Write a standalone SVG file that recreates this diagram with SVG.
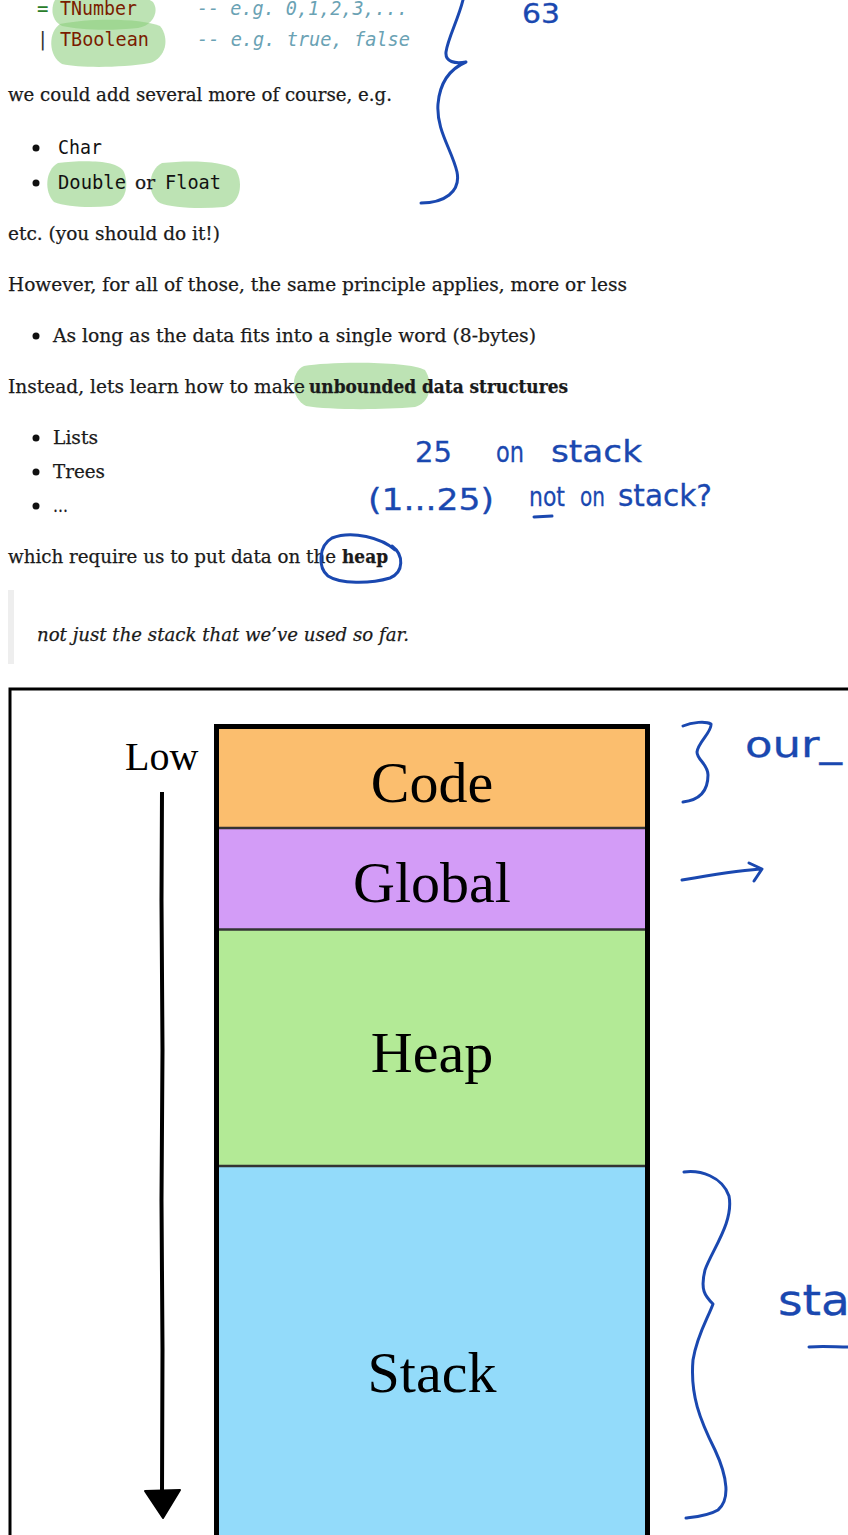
<svg xmlns="http://www.w3.org/2000/svg" width="848" height="1535" viewBox="0 0 848 1535">
  <style>
    .body { font-family: "DejaVu Serif", "Liberation Serif", serif; font-size: 18px; fill: #1a1a1a; stroke: #1a1a1a; stroke-width: 0.25; }
    .bold { font-weight: bold; }
    .ital { font-style: italic; }
    .mono { font-family: "DejaVu Sans Mono", "Liberation Mono", monospace; font-size: 19px; }
    .ctor { fill: #7a1c00; }
    .op { fill: #2a7d2a; }
    .bar { fill: #333; }
    .cmt { fill: #6aa2b4; font-style: italic; }
    .code { fill: #111; }
    .hl { fill: rgb(137,205,121); fill-opacity: 0.56; }
    .ink { fill: none; stroke: #1a48b0; stroke-width: 3; stroke-linecap: round; stroke-linejoin: round; }
    .inktext { font-family: "DejaVu Sans", "Noto Sans", sans-serif; fill: #1a48b0; stroke: #1a48b0; stroke-width: 0.3; }
    .seg { stroke: none; }
    .sep { stroke: #333; stroke-width: 2.5; }
    .label { font-family: "Liberation Serif", "DejaVu Serif", serif; font-size: 58px; fill: #000; text-anchor: middle; }
  </style>

  <!-- marker highlights (drawn under the text) -->
  <g id="highlights">
    <path class="hl" d="M58,-4 C90,-10 140,-8 153,2 C160,12 152,26 138,28 C110,31 80,30 62,26 C50,20 50,4 58,-4 Z"/>
    <path class="hl" d="M60,24 C90,18 140,18 160,26 C170,38 166,58 150,63 C120,68 80,68 62,64 C48,56 48,32 60,24 Z"/>
    <path class="hl" d="M58,163 C85,160 118,160 124,172 C130,188 124,204 110,206 C90,208 66,207 54,202 C44,192 45,170 58,163 Z"/>
    <path class="hl" d="M162,163 C190,160 225,161 236,170 C244,184 240,204 224,207 C200,209 172,208 160,203 C146,194 148,170 162,163 Z"/>
    <path class="hl" d="M304,366 C330,361 410,361 425,370 C434,384 430,403 415,407 C380,410 330,410 306,406 C290,398 290,372 304,366 Z"/>
  </g>

  <!-- data type definition -->
  <g id="type-def">
    <text class="mono" y="15"><tspan class="op" x="37">=</tspan><tspan class="ctor" x="60" textLength="77" lengthAdjust="spacingAndGlyphs">TNumber</tspan><tspan class="cmt" x="197" textLength="211" lengthAdjust="spacingAndGlyphs">-- e.g. 0,1,2,3,...</tspan></text>
    <text class="mono" y="46"><tspan class="bar" x="37">|</tspan><tspan class="ctor" x="60" textLength="89" lengthAdjust="spacingAndGlyphs">TBoolean</tspan><tspan class="cmt" x="197" textLength="213" lengthAdjust="spacingAndGlyphs">-- e.g. true, false</tspan></text>
  </g>

  <!-- prose -->
  <g id="prose">
    <text class="body" x="8" y="101" textLength="384" lengthAdjust="spacingAndGlyphs">we could add several more of course, e.g.</text>
    <circle cx="36" cy="148" r="3.5" fill="#111"/>
    <text class="mono code" x="58" y="154" textLength="44" lengthAdjust="spacingAndGlyphs">Char</text>
    <circle cx="36" cy="183" r="3.5" fill="#111"/>
    <text class="mono code" x="58" y="189" textLength="68" lengthAdjust="spacingAndGlyphs">Double</text>
    <text class="body" x="135" y="189" textLength="20" lengthAdjust="spacingAndGlyphs">or</text>
    <text class="mono code" x="165" y="189" textLength="56" lengthAdjust="spacingAndGlyphs">Float</text>
    <text class="body" x="8" y="240" textLength="212" lengthAdjust="spacingAndGlyphs">etc. (you should do it!)</text>
    <text class="body" x="8" y="291" textLength="619" lengthAdjust="spacingAndGlyphs">However, for all of those, the same principle applies, more or less</text>
    <circle cx="36" cy="336" r="3.5" fill="#111"/>
    <text class="body" x="53" y="342" textLength="483" lengthAdjust="spacingAndGlyphs">As long as the data fits into a single word (8-bytes)</text>
    <text class="body" x="8" y="393" textLength="297" lengthAdjust="spacingAndGlyphs">Instead, lets learn how to make</text>
    <text class="body bold" x="309" y="393" textLength="259" lengthAdjust="spacingAndGlyphs">unbounded data structures</text>
    <circle cx="36" cy="438" r="3.5" fill="#111"/>
    <text class="body" x="53" y="444" textLength="45" lengthAdjust="spacingAndGlyphs">Lists</text>
    <circle cx="36" cy="472" r="3.5" fill="#111"/>
    <text class="body" x="53" y="478" textLength="52" lengthAdjust="spacingAndGlyphs">Trees</text>
    <circle cx="36" cy="506" r="3.5" fill="#111"/>
    <text class="body" x="53" y="512" textLength="15" lengthAdjust="spacingAndGlyphs">…</text>
    <text class="body" x="8" y="563" textLength="328" lengthAdjust="spacingAndGlyphs">which require us to put data on the</text>
    <text class="body bold" x="342" y="563" textLength="46" lengthAdjust="spacingAndGlyphs">heap</text>
  </g>

  <!-- blockquote -->
  <g id="quote">
    <rect x="8" y="590" width="6" height="74" fill="#eeeeee"/>
    <text class="body ital" x="37" y="641" textLength="372" lengthAdjust="spacingAndGlyphs">not just the stack that we’ve used so far.</text>
  </g>

  <!-- pen annotations over the prose -->
  <g id="prose-notes">
    <text class="inktext" x="522" y="23" font-size="26" textLength="38" lengthAdjust="spacingAndGlyphs">63</text>
    <path class="ink" d="M463,0 C458,20 448,38 446,52 C445,62 455,64 466,62 C452,68 440,80 438,104 C436,130 452,150 457,172 C461,192 444,203 421,203"/>
    <text class="inktext" x="415" y="462" font-size="28" textLength="37" lengthAdjust="spacingAndGlyphs">25</text>
    <text class="inktext" x="496" y="462" font-size="28" textLength="28" lengthAdjust="spacingAndGlyphs">on</text>
    <text class="inktext" x="551" y="462" font-size="30" textLength="91" lengthAdjust="spacingAndGlyphs">stack</text>
    <text class="inktext" x="368" y="510" font-size="30" textLength="126" lengthAdjust="spacingAndGlyphs">(1...25)</text>
    <text class="inktext" x="529" y="506" font-size="26" textLength="36" lengthAdjust="spacingAndGlyphs">not</text>
    <path class="ink" d="M534,517 L552,516"/>
    <text class="inktext" x="580" y="506" font-size="26" textLength="25" lengthAdjust="spacingAndGlyphs">on</text>
    <text class="inktext" x="618" y="506" font-size="30" textLength="94" lengthAdjust="spacingAndGlyphs">stack?</text>
    <path class="ink" d="M395,550 C382,538 352,530 332,538 C318,546 318,568 328,576 C340,584 370,584 390,578 C404,572 404,555 392,546"/>
  </g>

  <!-- memory layout figure -->
  <g id="figure-frame">
    <rect x="10" y="689" width="900" height="900" fill="#fff" stroke="#000" stroke-width="3"/>
  </g>

  <g id="seg-code">
    <rect class="seg" x="219" y="729" width="426" height="99" fill="#fbbe6e"/>
    <text class="label" x="432" y="802">Code</text>
  </g>
  <g id="seg-global">
    <rect class="seg" x="219" y="829" width="426" height="100" fill="#d39cf7"/>
    <text class="label" x="432" y="902">Global</text>
  </g>
  <g id="seg-heap">
    <rect class="seg" x="219" y="930" width="426" height="236" fill="#b3ea96"/>
    <text class="label" x="432" y="1072">Heap</text>
  </g>
  <g id="seg-stack">
    <rect class="seg" x="219" y="1167" width="426" height="380" fill="#93dbfa"/>
    <text class="label" x="432" y="1392">Stack</text>
  </g>

  <g id="connectors">
    <line class="sep" x1="219" y1="828" x2="645" y2="828"/>
    <line class="sep" x1="219" y1="929.5" x2="645" y2="929.5"/>
    <line class="sep" x1="219" y1="1166" x2="645" y2="1166"/>
    <!-- direction arrow: low addresses at top -->
    <path d="M162,792 L161.5,900 L162.5,1050 L161.5,1200 L162.5,1350 L162,1492" fill="none" stroke="#000" stroke-width="4"/>
    <path d="M145,1491 L180,1490 L163,1518 Z" fill="#000" stroke="#000" stroke-width="2" stroke-linejoin="round"/>
  </g>

  <g id="memory-box">
    <rect x="216.5" y="726.5" width="431" height="830" fill="none" stroke="#000" stroke-width="5"/>
  </g>

  <g id="addr-low">
    <text x="125" y="770" font-family="Liberation Serif, serif" font-size="40" fill="#000">Low</text>
  </g>

  <!-- pen annotations beside the figure -->
  <g id="figure-notes">
    <path class="ink" d="M683,726 C692,722 706,721 711,724 C712,732 698,742 697,752 C697,760 708,764 708,775 C708,790 700,800 683,802"/>
    <text class="inktext" x="745" y="757" font-size="36" textLength="97" lengthAdjust="spacingAndGlyphs">our_</text>
    <path class="ink" d="M682,880 C705,876 735,871 760,869 M749,863 L762,869 L754,881"/>
    <path class="ink" d="M684,1172 C700,1170 722,1176 729,1196 C734,1222 712,1250 705,1270 C700,1290 705,1296 713,1304 C708,1318 697,1335 693,1360 C690,1395 700,1420 715,1450 C728,1478 730,1500 718,1510 C708,1516 695,1517 686,1518"/>
    <text class="inktext" x="778" y="1315" font-size="42" textLength="72" lengthAdjust="spacingAndGlyphs">sta</text>
    <path class="ink" d="M809,1347 C822,1346 836,1347 848,1347"/>
  </g>
</svg>
